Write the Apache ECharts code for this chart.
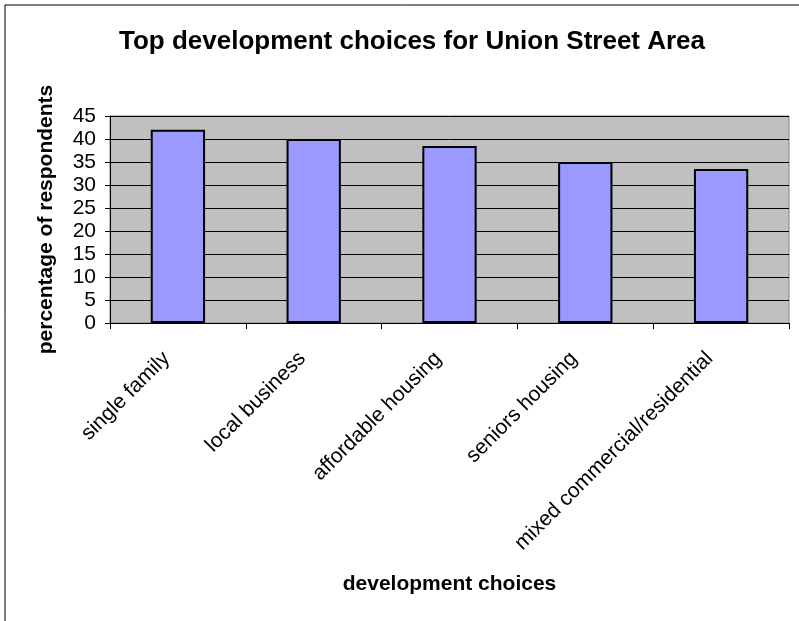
<!DOCTYPE html>
<html>
<head>
<meta charset="utf-8">
<script src="https://cdn.jsdelivr.net/npm/echarts@6/dist/echarts.min.js"></script>
<style>
  html, body { margin: 0; padding: 0; background: #ffffff; }
  #chart { width: 799px; height: 621px; }
</style>
</head>
<body>
<div id="chart"></div>
<script>
// Survey results: share of respondents choosing each development type
const categories = ['single family', 'local business', 'affordable housing', 'seniors housing', 'mixed commercial/residential'];
const percentages = [42, 40, 38.5, 35, 33.5];
const yTicks = { min: 0, max: 45, step: 5 };

const FONT = '"Liberation Sans", Arial, sans-serif';

const chart = echarts.init(document.getElementById('chart'), null, { renderer: 'canvas' });

chart.setOption({
  backgroundColor: '#ffffff',
  animation: false,
  textStyle: { fontFamily: FONT },
  title: {
    text: 'Top development choices for Union Street Area',
    left: 407,
    textAlign: 'center',
    top: 24,
    textStyle: { fontFamily: FONT, fontSize: 26, fontWeight: 'bold', color: '#000' }
  },
  graphic: [
    {
      // frame line along the left and top edges
      type: 'rect',
      shape: { x: 5, y: 5, width: 1000, height: 1000 },
      style: { fill: null, stroke: '#000', lineWidth: 1 },
      silent: true
    }
  ],
  grid: {
    left: 110,
    right: 10,
    top: 116,
    bottom: 298,
    show: true,
    backgroundColor: '#c0c0c0',
    borderColor: '#808080',
    borderWidth: 1
  },
  xAxis: {
    type: 'category',
    data: categories,
    name: 'development choices',
    nameLocation: 'middle',
    nameGap: 251,
    nameTextStyle: { fontFamily: FONT, fontSize: 21, fontWeight: 'bold', color: '#000' },
    axisLine: { lineStyle: { color: '#000', width: 1 } },
    axisTick: { show: true, alignWithLabel: false, length: 6, lineStyle: { color: '#000' } },
    axisLabel: {
      interval: 0,
      rotate: 45,
      margin: 21,
      padding: [0, 16, 0, 0],
      fontFamily: FONT,
      fontSize: 21,
      color: '#000'
    }
  },
  yAxis: {
    type: 'value',
    min: yTicks.min,
    max: yTicks.max,
    interval: yTicks.step,
    name: 'percentage of respondents',
    nameLocation: 'middle',
    nameGap: 53,
    nameTextStyle: { fontFamily: FONT, fontSize: 21, fontWeight: 'bold', color: '#000' },
    axisLine: { show: true, lineStyle: { color: '#000', width: 1 } },
    axisTick: { show: true, length: 5, lineStyle: { color: '#000' } },
    axisLabel: { margin: 14, fontFamily: FONT, fontSize: 21, color: '#000' },
    splitLine: { show: true, lineStyle: { color: '#000', width: 1 } }
  },
  series: [
    {
      type: 'bar',
      data: percentages,
      barWidth: '40%',
      itemStyle: { color: '#9999ff', borderColor: '#000', borderWidth: 2 }
    }
  ]
});
</script>
</body>
</html>
